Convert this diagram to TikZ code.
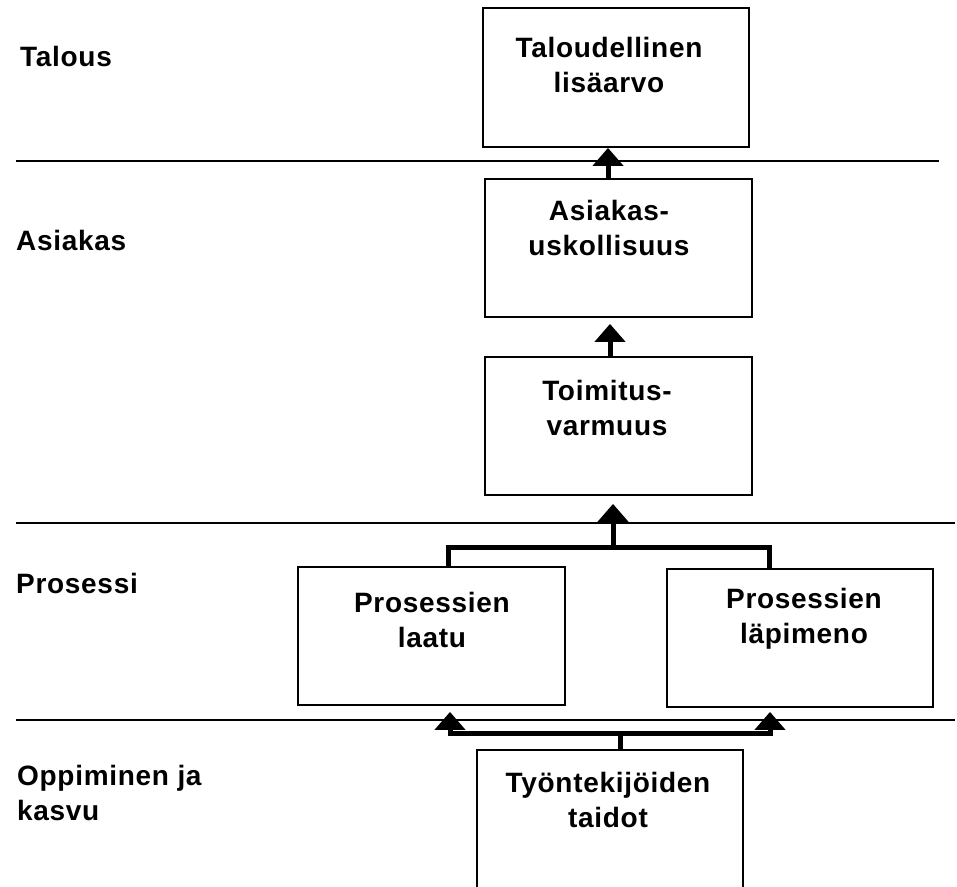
\documentclass[tikz,border=0pt]{standalone}
\usepackage{fontspec}
\setmainfont{Liberation Sans}[LetterSpace=2.5]
\usetikzlibrary{arrows.meta}
\begin{document}
\begin{tikzpicture}[x=1pt,y=-1pt,
  box/.style={draw, line width=1.8pt, inner sep=0pt},
  lbl/.style={font=\fontsize{28}{35}\selectfont\bfseries, inner sep=0pt, align=center, anchor=north},
  side/.style={font=\fontsize{28}{35}\selectfont\bfseries, inner sep=0pt, align=left, anchor=north west},
  band/.style={line width=1.6pt},
  link/.style={line width=5pt},
  uplink/.style={link, -{Triangle[width=30pt,length=18pt]}}]
\useasboundingbox (0,0) rectangle (957,886);
\clip (0,0) rectangle (957,886);

% perspective bands
\draw[band] (16,161) -- (939,161);
\draw[band] (16,523) -- (955,523);
\draw[band] (16,720) -- (955,720);

% perspective names
\node[side] (pTal) at (20,45.6) {Talous};
\node[side] (pAsi) at (16,229.6) {Asiakas};
\node[side] (pPro) at (16,572.6) {Prosessi};
\node[side] (pOpp) at (17,764.6) {Oppiminen ja\\kasvu};

% measure boxes
\node[box, minimum width=266pt, minimum height=139pt] (tal) at (616,77.5) {};
\node[box, minimum width=267pt, minimum height=138pt] (asi) at (618.5,248) {};
\node[box, minimum width=267pt, minimum height=138pt] (toi) at (618.5,426) {};
\node[box, minimum width=267pt, minimum height=138pt] (laa) at (431.5,636) {};
\node[box, minimum width=266pt, minimum height=138pt] (lap) at (800,638) {};
\node[box, minimum width=266pt, minimum height=150pt] (tyo) at (610,825) {};

% box captions
\node[lbl] (talT) at (609,36.6) {Taloudellinen\\lisäarvo};
\node[lbl] (asiT) at (609,199.6) {Asiakas-\\uskollisuus};
\node[lbl] (toiT) at (607,379.6) {Toimitus-\\varmuus};
\node[lbl] (laaT) at (432,591.6) {Prosessien\\laatu};
\node[lbl] (lapT) at (804,587.6) {Prosessien\\läpimeno};
\node[lbl] (tyoT) at (608,771.6) {Työntekijöiden\\taidot};

% cause-and-effect links
\draw[uplink] (608,0 |- asi.north) -- (608,0 |- tal.south);
\draw[uplink, shorten >=6pt] (610,0 |- toi.north) -- (610,0 |- asi.south);

\coordinate (joinP) at (613,547);
\draw[link] (448,0 |- laa.north) |- (joinP) -| (769,0 |- lap.north);
\draw[uplink, shorten >=8pt] (joinP) -- (613,0 |- toi.south);

\coordinate (joinQ) at (620,733);
\draw[link] (620,0 |- tyo.north) -- (joinQ);
\draw[uplink, shorten >=6pt] (joinQ) -| (450,0 |- laa.south);
\draw[uplink, shorten >=4pt] (joinQ) -| (770,0 |- lap.south);
\end{tikzpicture}
\end{document}
